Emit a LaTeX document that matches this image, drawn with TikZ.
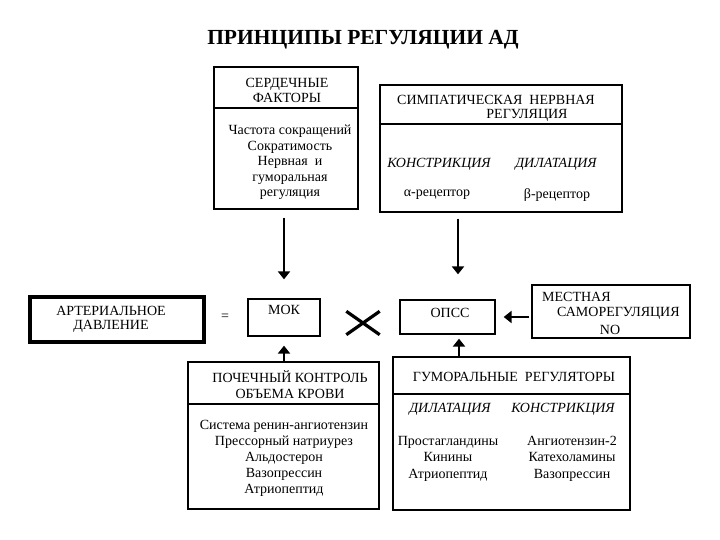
\documentclass[tikz,border=0pt]{standalone}
\usepackage{fontspec}
\setmainfont{Liberation Serif}
\usetikzlibrary{arrows.meta}
\begin{document}
\begin{tikzpicture}[x=1pt,y=-1pt,
  box/.style={draw=black, line width=1.3pt, inner sep=0pt},
  thickbox/.style={draw=black, line width=3.4pt, inner sep=0pt},
  txt/.style={font=\fontsize{14}{15.5}\selectfont, align=center, inner sep=0pt},
  itxt/.style={txt, font=\fontsize{14}{15.5}\selectfont\itshape},
  divider/.style={draw=black, line width=1.3pt},
  arr/.style={line width=2.8pt, -{Triangle[length=8pt,width=12pt]}},
  cross/.style={line width=3.2pt}
]
\fill[white] (0,0) rectangle (720,540);
\useasboundingbox (0,0) rectangle (720,540);

% title
\node[font=\fontsize{21.5}{24}\selectfont\bfseries, inner sep=0pt] (title) at (363,40) {ПРИНЦИПЫ РЕГУЛЯЦИИ АД};

% cardiac factors
\node[box, minimum width=144pt, minimum height=142pt] (serd) at (286,138) {};
\draw[divider] (214,108) -- (358,108);
\node[txt] (serdh) at (287,90.5) {СЕРДЕЧНЫЕ\\ФАКТОРЫ};
\node[txt] (serdb) at (290,162.5) {Частота сокращений\\Сократимость\\Нервная~ и\\гуморальная\\регуляция};

% sympathetic
\node[box, minimum width=242pt, minimum height=127pt] (symp) at (501,148.5) {};
\draw[divider] (380,124) -- (622,124);
\node[txt] (symph1) at (496,100) {СИМПАТИЧЕСКАЯ~~НЕРВНАЯ};
\node[txt] (symph2) at (527,115) {РЕГУЛЯЦИЯ};
\node[itxt] (sympk) at (439,164) {КОНСТРИКЦИЯ};
\node[itxt] (sympd) at (556,164) {ДИЛАТАЦИЯ};
\node[txt] (sympa) at (437,195) {α-рецептор};
\node[txt] (sympb) at (557,195) {β-рецептор};

% middle row
\node[thickbox, minimum width=174pt, minimum height=45pt] (ad) at (117,319.5) {};
\node[txt, font=\fontsize{14}{14}\selectfont] (adt) at (111,319) {АРТЕРИАЛЬНОЕ\\ДАВЛЕНИЕ};
\node[txt] (eq) at (225,317) {=};
\node[box, minimum width=72pt, minimum height=37pt] (mok) at (284,317.5) {};
\node[txt] (mokt) at (284,310) {МОК};
\node[inner sep=0pt, minimum width=33pt, minimum height=23pt] (x) at (363,323) {};
\draw[cross] (x.north west) -- (x.south east);
\draw[cross] (x.south west) -- (x.north east);
\node[box, minimum width=95pt, minimum height=34pt] (opss) at (447.5,317) {};
\node[txt] (opsst) at (450,313) {ОПСС};
\node[box, minimum width=158pt, minimum height=53pt] (mest) at (611,311.5) {};
\node[txt, anchor=west] (mest1) at (542,297) {МЕСТНАЯ};
\node[txt, anchor=west] (mest2) at (557,313) {САМОРЕГУЛЯЦИЯ};
\node[txt] (mest3) at (610,330) {NO};

% renal
\node[box, minimum width=191pt, minimum height=147pt] (poch) at (283.5,435.5) {};
\draw[divider] (188,404) -- (379,404);
\node[txt] (pochh) at (290,384.5) {ПОЧЕЧНЫЙ КОНТРОЛЬ\\ОБЪЕМА КРОВИ};
\node[txt, font=\fontsize{14}{16}\selectfont] (pochb) at (284,458) {Система ренин-ангиотензин\\Прессорный натриурез\\Альдостерон\\Вазопрессин\\Атриопептид};

% humoral
\node[box, minimum width=237pt, minimum height=153pt] (gum) at (511.5,433.5) {};
\draw[divider] (393,394) -- (630,394);
\node[txt] (gumh) at (514,377) {ГУМОРАЛЬНЫЕ~~РЕГУЛЯТОРЫ};
\node[itxt] (gumd) at (450,409) {ДИЛАТАЦИЯ};
\node[itxt] (gumk) at (563,409) {КОНСТРИКЦИЯ};
\node[txt, font=\fontsize{14}{16.5}\selectfont] (guml) at (448,458.5) {Простагландины\\Кинины\\Атриопептид};
\node[txt, font=\fontsize{14}{16.5}\selectfont] (gumr) at (572,458.5) {Ангиотензин-2\\Катехоламины\\Вазопрессин};

% arrows
\coordinate (ax2) at (458,0);
\coordinate (ax4) at (459,0);
\coordinate (ay5) at (0,317);
\draw[arr, shorten <=8pt, shorten >=19pt] (serd.south -| mok.north) -- (mok.north);
\draw[arr, shorten <=6pt, shorten >=25pt] (symp.south -| ax2) -- (opss.north -| ax2);
\draw[arr, shorten >=9pt] (poch.north -| mok.south) -- (mok.south);
\draw[arr, shorten >=4pt] (gum.north -| ax4) -- (opss.south -| ax4);
\draw[arr, shorten <=2pt, shorten >=8pt] (mest.west |- ay5) -- (opss.east |- ay5);
\end{tikzpicture}
\end{document}
